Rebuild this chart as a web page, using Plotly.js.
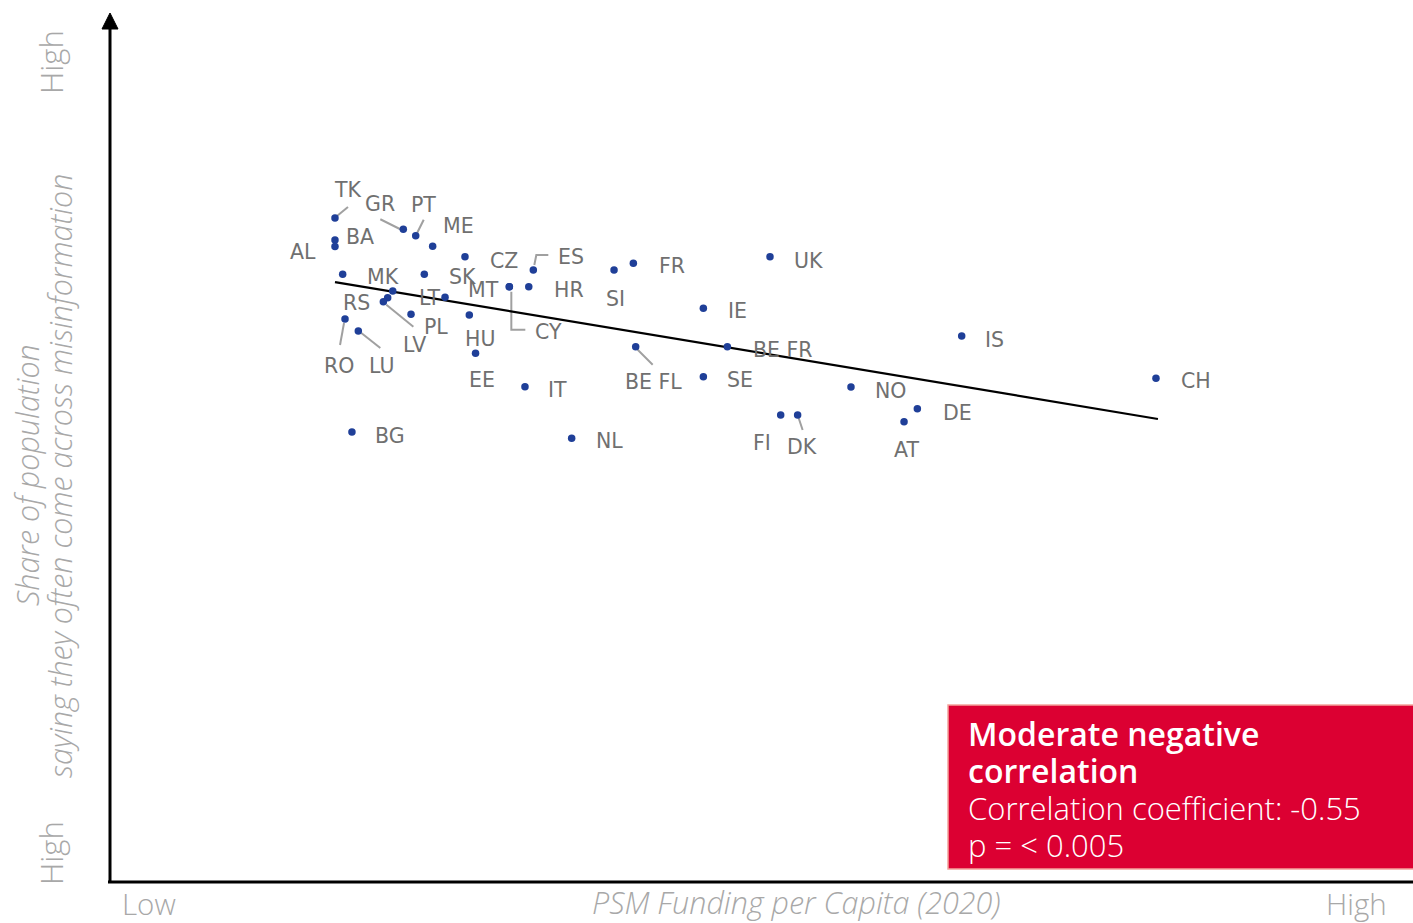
<!DOCTYPE html>
<html>
<head>
<meta charset="utf-8">
<script src="https://cdn.plot.ly/plotly-3.0.1.min.js"></script>
<style>html,body{margin:0;padding:0;background:#fff;}#chart{width:1413px;height:923px;}</style>
</head>
<body>
<div id="chart"></div>
<script>
// ---- data (arbitrary 0-100 units) ----
const countries = ["TK","BA","AL","GR","PT","ME","CZ","MK","SK","","RS","PL","LV","LT","RO","LU","HU","EE","BG","MT","CY","HR","ES","SI","FR","UK","IE","BE FR","BE FL","SE","IT","NL","FI","DK","NO","DE","AT","IS","CH"];
const psmFunding = [17.33,17.33,17.33,22.57,23.52,24.82,27.30,17.92,24.18,21.76,21.37,21.04,23.16,25.77,18.10,19.12,27.63,28.11,18.63,30.70,30.70,32.19,32.54,38.73,40.21,50.69,45.58,47.42,40.39,45.58,31.90,35.48,51.51,52.81,56.90,61.99,60.97,65.39,80.29];
const misinfoShare = [76.50,73.96,73.21,75.20,74.46,73.24,72.04,70.01,70.01,68.09,67.32,66.85,65.40,67.36,64.86,63.48,65.32,60.92,51.84,68.58,68.58,68.58,70.51,70.51,71.28,72.04,66.09,61.67,61.67,58.21,57.06,51.11,53.80,53.80,57.03,54.53,53.03,62.90,58.03];
const trendX = [17.33, 80.44];
const trendY = [69.12, 53.34];
const xTitle = "PSM Funding per Capita (2020)";
const yTitle1 = "Share of population";
const yTitle2 = "saying they often come across misinformation";
const lowLabel = "Low", highLabel = "High";
const boxLines = ["Moderate negative", "correlation", "Correlation coefficient: -0.55", "p = &lt; 0.005"];

// ---- label placement (pixel offsets from each point, screen-down positive) ----
const labelOffset = {
  "TK":[13,-28],"BA":[25,-3],"AL":[-32,5],"GR":[-23,-25],"PT":[8,-31],"ME":[26,-20],"CZ":[39,4],
  "MK":[40,3],"SK":[38,3],"RS":[-31,5],"PL":[53,25],"LV":[3,31],"LT":[-15,1],"RO":[-6,47],"LU":[23,35],
  "HU":[11,24],"EE":[6,27],"BG":[38,4],"MT":[-26,3],"CY":[39,45],"HR":[40,3],"ES":[38,-13],"SI":[1,29],
  "FR":[39,3],"UK":[38,4],"IE":[34,3],"BE FR":[56,3],"BE FL":[18,35],"SE":[37,3],"IT":[33,3],"NL":[38,3],
  "FI":[-19,28],"DK":[4,32],"NO":[40,4],"DE":[40,4],"AT":[2,28],"IS":[33,4],"CH":[40,3]
};
const leaders = {
  "TK":[[2,-2],[13,-11]],
  "GR":[[-23,-10],[-3,0]],
  "PT":[[8,-16],[1,-2]],
  "PL":[[3,3],[30,25]],
  "LU":[[3,2],[22,17]],
  "RO":[[-1,4],[-5,26]],
  "CY":[[2,5],[2,43],[16,43]],
  "ES":[[1,-5],[3,-15],[15,-15]],
  "BE FL":[[2,3],[17,18]],
  "DK":[[1,3],[5,15]]
};

const W = 1413, H = 923, ML = 109, MR = 0, MT_ = 14, MB = 41;
const PW = W - ML - MR, PH = H - MT_ - MB;
const px = v => (v - ML) / PW;          // page x -> paper x
const py = v => (H - MB - v) / PH;      // page y -> paper y

const labelColor = "#707070";
const titleColor = "#a8a8a8";
const labelFont = {family: "DejaVu Sans, sans-serif", size: 20.5, color: labelColor};

const shapes = [];
const annotations = [];

// leader lines (pixel-sized shapes anchored at each point)
countries.forEach((c, i) => {
  const seg = leaders[c];
  if (!seg) return;
  const path = seg.map((p, k) => (k === 0 ? "M" : "L") + p[0] + "," + (-p[1])).join(" ");
  shapes.push({type: "path", layer: "below", xref: "x", yref: "y",
    xsizemode: "pixel", ysizemode: "pixel", xanchor: psmFunding[i], yanchor: misinfoShare[i],
    path: path, line: {color: "#a0a0a0", width: 2}});
});

// labels
countries.forEach((c, i) => {
  const off = labelOffset[c];
  if (!c || !off) return;
  annotations.push({x: psmFunding[i], y: misinfoShare[i], xref: "x", yref: "y",
    text: c, showarrow: false, xshift: off[0], yshift: -off[1],
    xanchor: "center", yanchor: "middle", font: labelFont});
});

// axes lines + arrow
shapes.push({type: "line", xref: "paper", yref: "paper", x0: px(108), x1: 1.01, y0: 0, y1: 0,
  line: {color: "#000", width: 3}});
shapes.push({type: "line", xref: "paper", yref: "paper", x0: px(110), x1: px(110), y0: py(883), y1: py(26),
  line: {color: "#000", width: 3}});
shapes.push({type: "path", xref: "paper", yref: "paper", xsizemode: "pixel", ysizemode: "pixel",
  xanchor: px(110), yanchor: py(13), path: "M0,0 L-8,-16 L8,-16 Z",
  fillcolor: "#000", line: {color: "#000", width: 1}});

// red box
shapes.push({type: "rect", xref: "paper", yref: "paper", x0: px(948), x1: px(1416), y0: py(869), y1: py(705),
  fillcolor: "#dc0032", line: {color: "#f3a29c", width: 1.5}});

const boxText =
  '<span style="font-size:32px;font-weight:600">' + boxLines[0] + '</span><br>' +
  '<span style="font-size:32px;font-weight:600">' + boxLines[1] + '</span><br>' +
  '<span style="font-size:31px;font-weight:300">' + boxLines[2] + '</span><br>' +
  '<span style="font-size:31px;font-weight:300">' + boxLines[3] + '</span>';
annotations.push({xref: "paper", yref: "paper", x: px(966), y: py(789), xanchor: "left", yanchor: "middle",
  align: "left", showarrow: false, text: boxText,
  font: {family: "Open Sans, Noto Sans, sans-serif", size: 28.5, weight: 300, color: "#ffffff"}});

// axis titles
const tFont = (size, italic) => ({family: "Open Sans, Roboto, sans-serif", size: size, color: titleColor,
  style: italic ? "italic" : "normal", weight: 300});
annotations.push({xref: "paper", yref: "paper", x: px(149), y: py(903), text: lowLabel, showarrow: false,
  xanchor: "center", yanchor: "middle", font: tFont(29.5, false)});
annotations.push({xref: "paper", yref: "paper", x: px(1356), y: py(903), text: highLabel, showarrow: false,
  xanchor: "center", yanchor: "middle", font: tFont(29.5, false)});
annotations.push({xref: "paper", yref: "paper", x: px(796), y: py(902), text: xTitle, showarrow: false,
  xanchor: "center", yanchor: "middle", font: tFont(30.5, true)});
annotations.push({xref: "paper", yref: "paper", x: px(51), y: py(62), text: highLabel, showarrow: false,
  textangle: -90, xanchor: "center", yanchor: "middle", font: tFont(31, false)});
annotations.push({xref: "paper", yref: "paper", x: px(51), y: py(853), text: highLabel, showarrow: false,
  textangle: -90, xanchor: "center", yanchor: "middle", font: tFont(31, false)});
annotations.push({xref: "paper", yref: "paper", x: px(27), y: py(475), text: yTitle1, showarrow: false,
  textangle: -90, xanchor: "center", yanchor: "middle", font: tFont(30.5, true)});
annotations.push({xref: "paper", yref: "paper", x: px(60), y: py(476), text: yTitle2, showarrow: false,
  textangle: -90, xanchor: "center", yanchor: "middle", font: tFont(30.5, true)});

const traces = [
  {x: trendX, y: trendY, type: "scatter", mode: "lines", line: {color: "#000", width: 2.2},
   hoverinfo: "skip", showlegend: false},
  {x: psmFunding, y: misinfoShare, text: countries, type: "scatter", mode: "markers",
   marker: {color: "#1f3f98", size: 7.5}, showlegend: false}
];

const layout = {
  width: W, height: H,
  margin: {l: ML, r: MR, t: MT_, b: MB, pad: 0},
  paper_bgcolor: "#fff", plot_bgcolor: "#fff",
  xaxis: {range: [0, 100], visible: false, fixedrange: true},
  yaxis: {range: [0, 100], visible: false, fixedrange: true},
  shapes: shapes, annotations: annotations, showlegend: false
};

Plotly.newPlot("chart", traces, layout, {staticPlot: true, displayModeBar: false});
</script>
</body>
</html>
